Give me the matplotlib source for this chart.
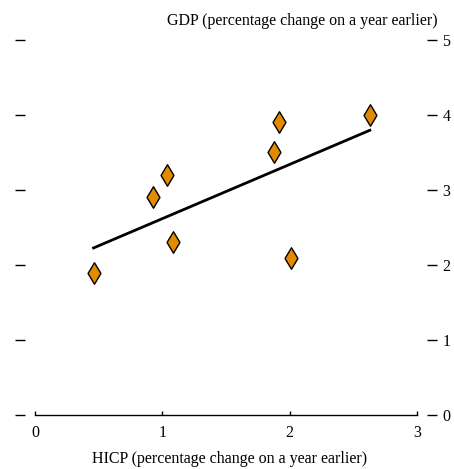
import matplotlib
matplotlib.use("Agg")
import matplotlib.pyplot as plt
import numpy as np

# data
hicp = [0.46, 0.93, 1.04, 1.08, 1.88, 1.92, 2.01, 2.63]
gdp = [1.9, 2.9, 3.2, 2.3, 3.5, 3.9, 2.1, 4.0]
x_ticks = [0, 1, 2, 3]
y_ticks = [0, 1, 2, 3, 4, 5]

plt.rcParams["font.family"] = ["Liberation Serif", "DejaVu Serif"]
plt.rcParams["font.size"] = 11.5

fig = plt.figure(figsize=(4.54, 4.69), dpi=100)
ax = fig.add_axes([35 / 454, 1 - 415 / 469, 382 / 454, 375 / 469])

# fitted line
slope, intercept = np.polyfit(hicp, gdp, 1)
xs = np.array([min(hicp), max(hicp)])
ax.plot(xs, slope * xs + intercept, color="black", linewidth=2, zorder=2)

ax.scatter(hicp, gdp, marker="d", s=120, color="#E38B00", edgecolor="black",
           linewidth=1.0, zorder=3)

ax.set_xlim(0, 3)
ax.set_ylim(0, 5)
ax.set_xticks(x_ticks)
ax.set_yticks(y_ticks)

ax.spines["top"].set_visible(False)
ax.spines["left"].set_visible(False)
ax.spines["right"].set_visible(False)
# spine offsets are in points (10 px at 100 dpi)
ax.spines["left"].set_position(("outward", 7.2))
ax.spines["right"].set_position(("outward", 7.2))
ax.spines["bottom"].set_linewidth(1.0)

ax.tick_params(axis="x", direction="in", length=3, width=1.0, pad=7)
ax.tick_params(axis="y", left=True, right=True, labelleft=False, labelright=True,
               direction="out", length=7.2, width=1.0, pad=4)

fig.text(438 / 454, 1 - 21 / 469, "GDP (percentage change on a year earlier)",
         ha="right", va="center")
fig.text(230 / 454, 1 - 459 / 469, "HICP (percentage change on a year earlier)",
         ha="center", va="center")

fig.savefig("out.png", dpi=100)
